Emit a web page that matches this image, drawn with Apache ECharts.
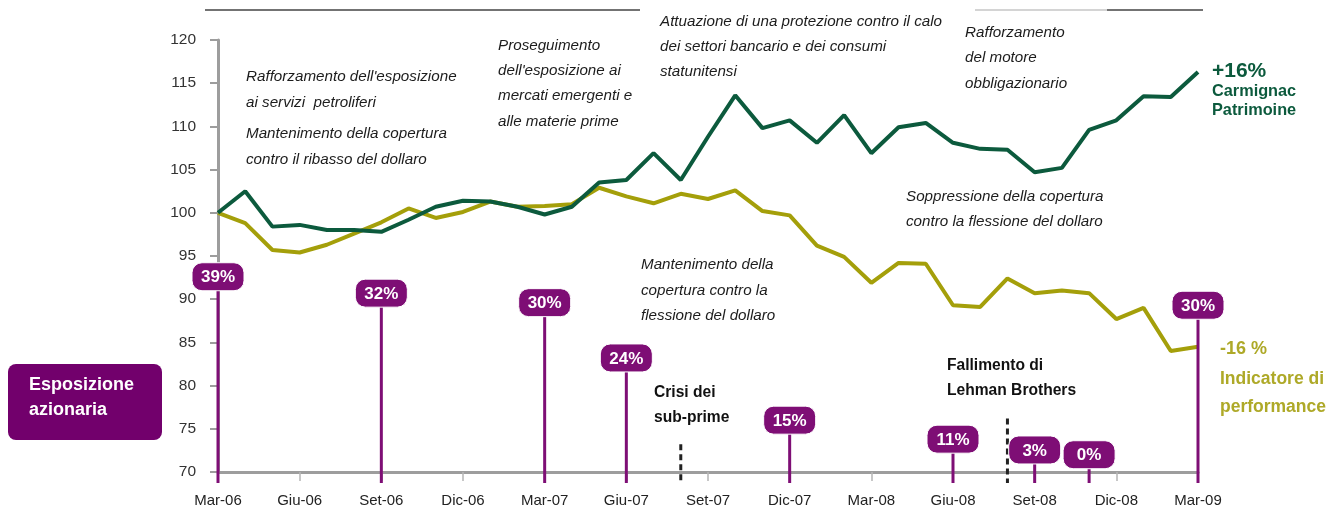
<!DOCTYPE html>
<html>
<head>
<meta charset="utf-8">
<title>Carmignac Patrimoine</title>
<script src="https://cdn.jsdelivr.net/npm/echarts@6/dist/echarts.min.js"></script>
<style>
  html, body { margin: 0; padding: 0; background: #fff; }
  #chart { width: 1329px; height: 515px; }
</style>
</head>
<body>
<div id="chart"></div>
<script>
// mesi (marzo 2006 - marzo 2009)
const months = [
  "Mar-06", "Apr-06", "Mag-06", "Giu-06", "Lug-06", "Ago-06", "Set-06", "Ott-06", "Nov-06", "Dic-06",
  "Gen-07", "Feb-07", "Mar-07", "Apr-07", "Mag-07", "Giu-07", "Lug-07", "Ago-07", "Set-07", "Ott-07",
  "Nov-07", "Dic-07", "Gen-08", "Feb-08", "Mar-08", "Apr-08", "Mag-08", "Giu-08", "Lug-08", "Ago-08",
  "Set-08", "Ott-08", "Nov-08", "Dic-08", "Gen-09", "Feb-09", "Mar-09"
];

// Carmignac Patrimoine (base 100)
const fundValues = [
  100, 102.5, 98.4, 98.6, 98.0, 98.0, 97.8, 99.2, 100.7, 101.4,
  101.3, 100.7, 99.8, 100.7, 103.5, 103.8, 106.9, 103.8, 108.8, 113.6,
  109.8, 110.7, 108.1, 111.3, 106.9, 109.9, 110.4, 108.1, 107.4, 107.3,
  104.7, 105.2, 109.6, 110.7, 113.5, 113.4, 116.3
];

// Indicatore di performance (base 100)
const benchValues = [
  100, 98.8, 95.7, 95.4, 96.3, 97.6, 98.9, 100.5, 99.4, 100.1,
  101.3, 100.7, 100.8, 101.0, 102.9, 101.9, 101.1, 102.2, 101.6, 102.6,
  100.2, 99.7, 96.2, 94.9, 91.9, 94.2, 94.1, 89.3, 89.1, 92.4,
  90.7, 91.0, 90.7, 87.7, 89.0, 84.0, 84.5
];

// esposizione azionaria: mese, livello dell'etichetta sulla scala, valore
const expoMonths = ["Mar-06", "Set-06", "Mar-07", "Giu-07", "Dic-07", "Giu-08", "Set-08", "Nov-08", "Mar-09"];
const expoLevels = [92.6, 90.7, 89.6, 83.2, 76.0, 73.8, 72.55, 72.0, 89.3];
const expoLabels = ["39%", "32%", "30%", "24%", "15%", "11%", "3%", "0%", "30%"];

// eventi (linee tratteggiate)
const eventMonths = ["Ago-07", "Ago-08"];
const eventLevels = [73.2, 76.2];

const GREEN = "#0c5a3d";
const OLIVE = "#a49f0a";
const PURPLE = "#7e0e75";
const FONT = "'Liberation Sans', Arial, sans-serif";

const chart = echarts.init(document.getElementById("chart"));

function note(x, top, text, lh, opts) {
  return {
    type: "text",
    left: x,
    top: top,
    silent: true,
    style: Object.assign({
      text: text,
      fill: "#1c1c1c",
      fontFamily: FONT,
      fontSize: 15.2,
      fontStyle: "italic",
      lineHeight: lh
    }, opts || {})
  };
}

const bold = { fontStyle: "normal", fontWeight: "bold", fontSize: 15.6, fill: "#111" };

const option = {
  animation: false,
  grid: { left: 218, right: 131, top: 40, bottom: 43 },
  xAxis: {
    type: "category",
    data: months,
    boundaryGap: false,
    axisLine: { lineStyle: { color: "#9d9d9d", width: 3 } },
    axisTick: { interval: 2, length: 9, lineStyle: { color: "#b5b5b5", width: 1.5 } },
    axisLabel: { interval: 2, margin: 21, fontFamily: FONT, fontSize: 15, color: "#222" },
    splitLine: { show: false }
  },
  yAxis: {
    type: "value",
    min: 70,
    max: 120,
    interval: 5,
    axisLine: { show: true, lineStyle: { color: "#9d9d9d", width: 3 } },
    axisTick: { show: true, length: 8, lineStyle: { color: "#9d9d9d", width: 2 } },
    axisLabel: { margin: 22, fontFamily: FONT, fontSize: 15.5, color: "#333" },
    splitLine: { show: false }
  },
  series: [
    {
      name: "Indicatore di performance",
      type: "line",
      data: benchValues,
      symbol: "none",
      lineStyle: { color: OLIVE, width: 4 },
      z: 3
    },
    {
      name: "Carmignac Patrimoine",
      type: "line",
      data: fundValues,
      symbol: "none",
      lineStyle: { color: GREEN, width: 4 },
      z: 4
    },
    {
      // linee tratteggiate degli eventi
      type: "custom",
      clip: false,
      z: 5,
      data: eventMonths.map((m, i) => [m, eventLevels[i]]),
      renderItem: function (params, api) {
        const top = api.coord([api.value(0), api.value(1)]);
        const base = api.coord([api.value(0), 70]);
        return {
          type: "line",
          shape: { x1: top[0], y1: top[1], x2: top[0], y2: base[1] + 11 },
          style: { stroke: "#222", lineWidth: 3, lineDash: [6, 4] }
        };
      }
    },
    {
      // esposizione azionaria
      type: "custom",
      clip: false,
      z: 6,
      data: expoMonths.map((m, i) => [m, expoLevels[i], expoLabels[i]]),
      renderItem: function (params, api) {
        const p = api.coord([api.value(0), api.value(1)]);
        const base = api.coord([api.value(0), 70]);
        const label = expoLabels[params.dataIndex];
        return {
          type: "group",
          children: [
            {
              type: "line",
              shape: { x1: p[0], y1: p[1], x2: p[0], y2: base[1] + 11 },
              style: { stroke: PURPLE, lineWidth: 3 }
            },
            {
              type: "rect",
              shape: { x: p[0] - 26, y: p[1] - 14, width: 52, height: 28, r: 10 },
              style: { fill: PURPLE, stroke: "#fff", lineWidth: 1 }
            },
            {
              type: "text",
              style: {
                text: label,
                x: p[0],
                y: p[1] + 1,
                align: "center",
                verticalAlign: "middle",
                fill: "#fff",
                fontFamily: "'Liberation Sans Narrow', 'Liberation Sans', Arial, sans-serif",
                fontWeight: "bold",
                fontSize: 17
              }
            }
          ]
        };
      }
    }
  ],
  graphic: [
    // linee in alto
    { type: "line", silent: true, shape: { x1: 205, y1: 10, x2: 640, y2: 10 }, style: { stroke: "#444", lineWidth: 1.4 } },
    { type: "line", silent: true, shape: { x1: 975, y1: 10, x2: 1107, y2: 10 }, style: { stroke: "#aaa", lineWidth: 1.2 } },
    { type: "line", silent: true, shape: { x1: 1107, y1: 10, x2: 1203, y2: 10 }, style: { stroke: "#444", lineWidth: 1.4 } },

    note(246, 64, "Rafforzamento dell'esposizione\nai servizi  petroliferi", 26),
    note(246, 121, "Mantenimento della copertura\ncontro il ribasso del dollaro", 26),
    note(498, 33, "Proseguimento\ndell'esposizione ai\nmercati emergenti e\nalle materie prime", 25.3),
    note(660, 9.5, "Attuazione di una protezione contro il calo\ndei settori bancario e dei consumi\nstatunitensi", 25),
    note(965, 20, "Rafforzamento\ndel motore\nobbligazionario", 25.5),
    note(906, 184.5, "Soppressione della copertura\ncontro la flessione del dollaro", 25),
    note(641, 252.5, "Mantenimento della\ncopertura contro la\nflessione del dollaro", 25.5),
    note(654, 380.5, "Crisi dei\nsub-prime", 25, bold),
    note(947, 353.5, "Fallimento di\nLehman Brothers", 25, bold),

    // etichette a destra
    note(1212, 59, "+16%", 24, { fontStyle: "normal", fontWeight: "bold", fontSize: 21, fill: GREEN }),
    note(1212, 82.5, "Carmignac\nPatrimoine", 19, { fontStyle: "normal", fontWeight: "bold", fontSize: 16.3, fill: GREEN }),
    note(1220, 338, "-16 %", 22, { fontStyle: "normal", fontWeight: "bold", fontSize: 18, fill: "#aea928" }),
    note(1220, 365, "Indicatore di\nperformance", 28, { fontStyle: "normal", fontWeight: "bold", fontSize: 17.5, fill: "#aea928" }),

    // riquadro esposizione azionaria
    {
      type: "rect",
      silent: true,
      shape: { x: 8, y: 364, width: 154, height: 76, r: 8 },
      style: { fill: "#72006c" }
    },
    note(29, 373, "Esposizione\nazionaria", 25, { fontStyle: "normal", fontWeight: "bold", fontSize: 18, fill: "#fff" })
  ]
};

option && chart.setOption(option);
window.addEventListener("resize", () => {
  chart.resize();
});
</script>
</body>
</html>
